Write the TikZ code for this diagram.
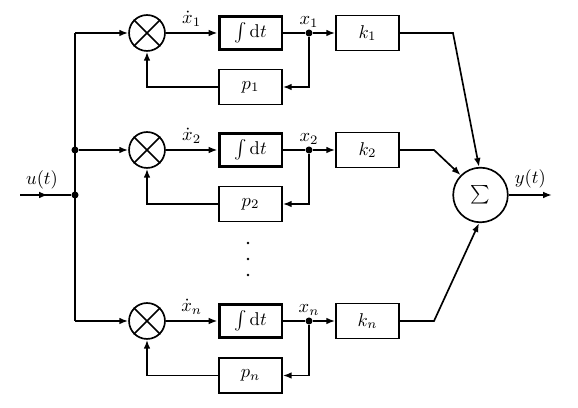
\documentclass[tikz,border=0pt]{standalone}
\usetikzlibrary{arrows.meta,calc}
\begin{document}
\begin{tikzpicture}[x=0.54pt,y=-0.54pt,
  >={Latex[length=4.8pt,width=3.6pt]},
  line/.style={line width=0.9pt},
  mult/.style={circle,draw,line width=0.9pt,minimum size=19.4pt,inner sep=0pt},
  intbox/.style={draw,line width=1.6pt,minimum width=34pt,minimum height=18pt,inner sep=0pt},
  gbox/.style={draw,line width=0.9pt,minimum width=34pt,minimum height=19pt,inner sep=0pt},
  sumnode/.style={circle,draw,line width=0.9pt,minimum size=29.5pt,inner sep=0pt},
  junc/.style={circle,fill,inner sep=0pt,minimum size=3.8pt},
  vdot/.style={circle,fill,inner sep=0pt,minimum size=1.6pt},
  lbl/.style={inner sep=1pt}
]
\useasboundingbox (0,0) rectangle (578,408);

% left input and bus
\coordinate (in) at (20,195);
\coordinate (inmid) at (48,195);
\coordinate (t1) at (75,33);
\coordinate (tn) at (75,321);
\node[junc] (ja) at (75,150) {};
\node[junc] (jb) at (75,195) {};
\node[lbl,above=2pt] (ulbl) at (42,195) {$u(t)$};

% row 1
\node[mult] (m1) at (147,33) {};
\node[intbox] (i1) at (250.5,33) {$\int\mathrm{d}t$};
\node[gbox] (p1) at (250.5,87) {$p_1$};
\node[junc] (j1) at (309,33) {};
\node[gbox] (k1) at (367.5,33) {$k_1$};
\node[lbl,above=2pt] (x1) at (309,33) {$x_1$};
\coordinate (b1) at (453,33);

% row 2
\node[mult] (m2) at (147,150) {};
\node[intbox] (i2) at (250.5,150) {$\int\mathrm{d}t$};
\node[gbox] (p2) at (250.5,204) {$p_2$};
\node[junc] (j2) at (309,150) {};
\node[gbox] (k2) at (367.5,150) {$k_2$};
\node[lbl,above=2pt] (x2) at (309,150) {$x_2$};
\coordinate (b2) at (434,150);

% row n
\node[mult] (mn) at (147,321) {};
\node[intbox] (in2) at (250.5,321) {$\int\mathrm{d}t$};
\node[gbox] (pn) at (250.5,375.5) {$p_n$};
\node[junc] (jn) at (309,321) {};
\node[gbox] (kn) at (367.5,321) {$k_n$};
\node[lbl,above=2pt] (xn) at (309,321) {$x_n$};
\coordinate (bn) at (434,321);

% vertical dots
\node[vdot] (d1) at (248,243) {};
\node[vdot] (d2) at (248,259) {};
\node[vdot] (d3) at (248,275) {};

% sum and output
\node[sumnode] (sum) at (480.5,195) {$\sum$};
\coordinate (out) at (552,195);

% crosses in multipliers
\foreach \m in {m1,m2,mn}{
  \draw[line] (\m.north west) -- (\m.south east);
  \draw[line] (\m.north east) -- (\m.south west);
}

% input
\draw[line] (in) -- (jb);
\draw[line,->] (in) -- (inmid);
\draw[line] (t1) -- (tn);
\draw[line,->] (t1) -- (m1);
\draw[line,->] (ja) -- (m2);
\draw[line,->] (tn) -- (mn);

% row connections
\draw[line,->] (m1) -- node[lbl,above=2pt]{$\dot x_1$} (i1);
\draw[line] (i1) -- (j1);
\draw[line,->] (j1) -- (k1);
\draw[line,->] (j1) |- (p1);
\draw[line,->] (p1) -| (m1);

\draw[line,->] (m2) -- node[lbl,above=2pt]{$\dot x_2$} (i2);
\draw[line] (i2) -- (j2);
\draw[line,->] (j2) -- (k2);
\draw[line,->] (j2) |- (p2);
\draw[line,->] (p2) -| (m2);

\draw[line,->] (mn) -- node[lbl,above=2pt]{$\dot x_n$} (in2);
\draw[line] (in2) -- (jn);
\draw[line,->] (jn) -- (kn);
\draw[line,->] (jn) |- (pn);
\draw[line,->] (pn) -| (mn);

% to sum
\draw[line,->] (k1.east) -- (b1) -- (sum.93);
\draw[line,->] (k2.east) -- (b2) -- (sum.135);
\draw[line,->] (kn.east) -- (bn) -- (sum.267);
\draw[line,->] (sum) -- node[lbl,above=2pt]{$y(t)$} (out);
\end{tikzpicture}
\end{document}
